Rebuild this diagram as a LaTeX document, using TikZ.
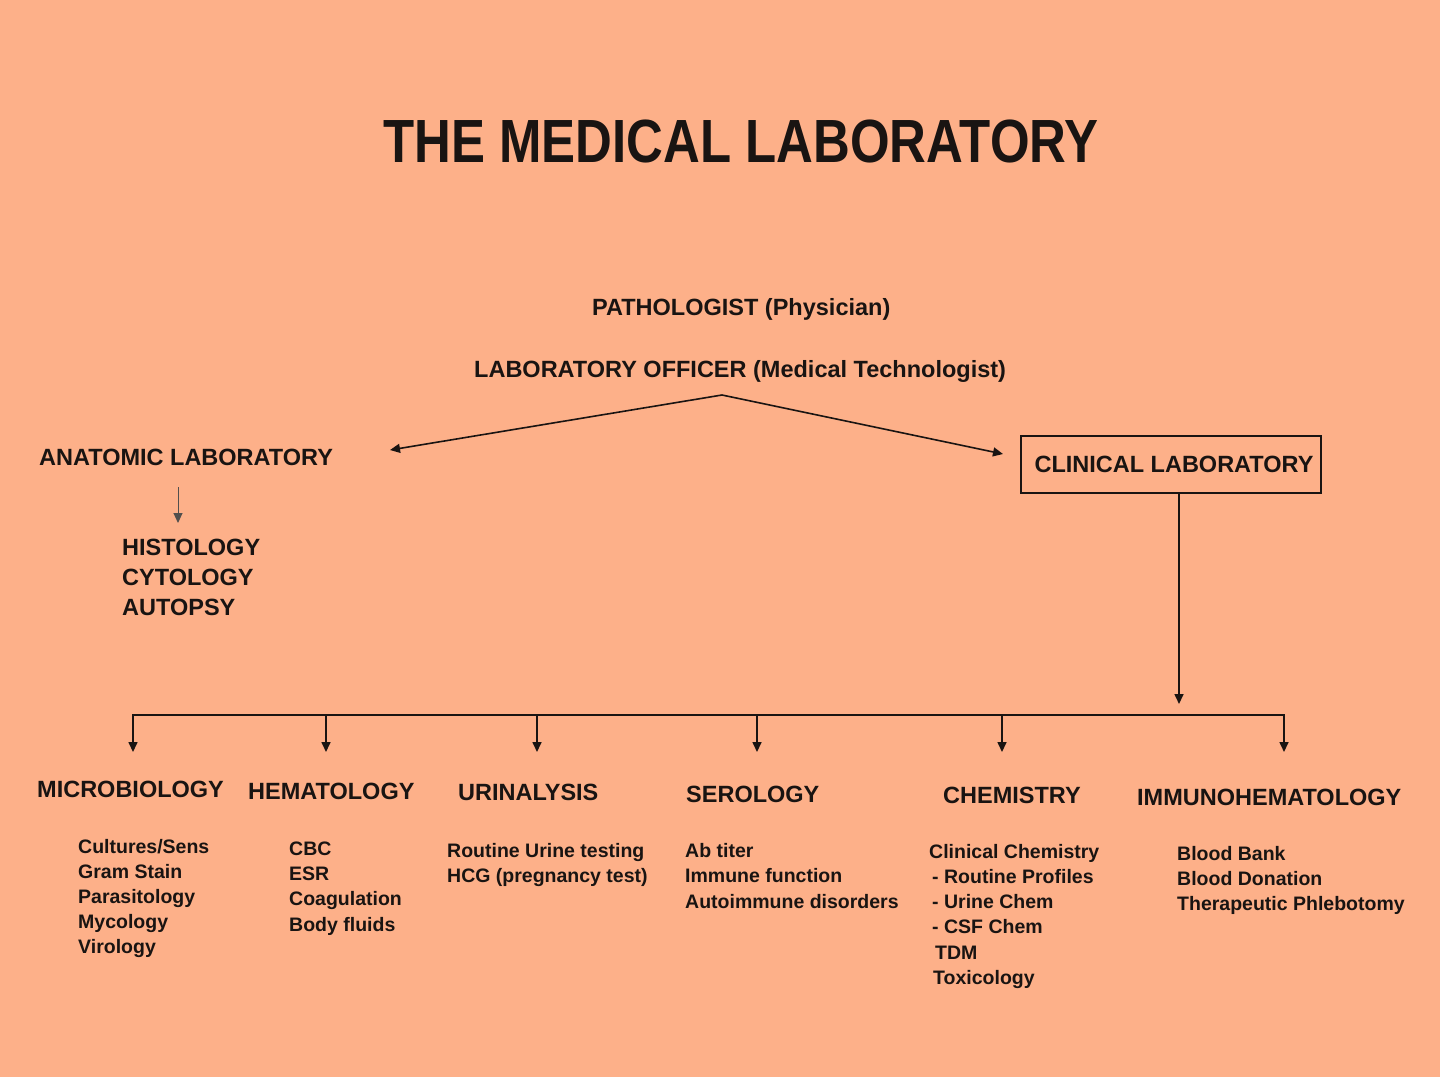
\documentclass[tikz,border=0pt]{standalone}
\usepackage{fontspec}
\setmainfont{Liberation Sans}
\usetikzlibrary{arrows.meta}
\definecolor{bg}{RGB}{253,176,137}
\definecolor{ink}{RGB}{25,20,18}
\begin{document}
\begin{tikzpicture}[x=1pt,y=-1pt,
  txt/.style={inner sep=0pt, text=ink},
  head/.style={txt, font=\fontsize{23.5}{28}\selectfont\bfseries, anchor=base west},
  item/.style={txt, font=\fontsize{19.5}{24}\selectfont\bfseries, anchor=base west},
  conn/.style={draw=ink, line width=1.6pt},
  arr/.style={conn, -{Triangle[length=10pt,width=9pt]}}]
\fill[bg] (0,0) rectangle (1440,1077);
\useasboundingbox (0,0) rectangle (1440,1077);

% title
\node[txt, anchor=base, font=\fontsize{61}{61}\selectfont\bfseries] (title) at (741,162)
  {\scalebox{0.835}[1]{THE MEDICAL LABORATORY}};

% top levels
\node[head] (path) at (592,315) {PATHOLOGIST (Physician)};
\node[head] (officer) at (474,377) {LABORATORY OFFICER (Medical Technologist)};
\node[head] (anat) at (39,465) {ANATOMIC LABORATORY};
\node[txt, font=\fontsize{23.5}{28}\selectfont\bfseries, draw=ink, line width=1.3pt,
      minimum width=300pt, minimum height=57pt] (clin) at (1171,464.5) {\hspace*{6pt}CLINICAL LABORATORY};

\coordinate (split) at (722,395);
\coordinate (anatTip) at (390,450);
\coordinate (clinTip) at (1003,454);
\draw[arr] (split) -- (anatTip);
\draw[arr] (split) -- (clinTip);

% anatomic branch
\coordinate (aTop) at (178,487);
\coordinate (aTip) at (178,523);
\draw[arr, line width=1pt, draw=ink!75] (aTop) -- (aTip);
\node[head] (histo) at (122,555) {HISTOLOGY};
\node[head] (cyto) at (122,585) {CYTOLOGY};
\node[head] (autop) at (122,615) {AUTOPSY};

% clinical branch
\coordinate (cTip) at (1179,704);
\draw[arr] (clin.south -| cTip) -- (cTip);

\foreach \x [count=\i] in {133,326,537,757,1002,1284} {
  \coordinate (b\i) at (\x,715);
  \coordinate (t\i) at (\x,752);
}
\draw[conn, line cap=rect] (b1) -- (b6);
\foreach \i in {1,...,6} \draw[arr] (b\i) -- (t\i);

% department headings
\node[head] (micro) at (37,797) {MICROBIOLOGY};
\node[head] (hema) at (248,799) {HEMATOLOGY};
\node[head] (urin) at (458,800) {URINALYSIS};
\node[head] (sero) at (686,802) {SEROLOGY};
\node[head] (chem) at (943,803) {CHEMISTRY};
\node[head] (immu) at (1137,805) {IMMUNOHEMATOLOGY};

% items
\foreach \t [count=\i] in {Cultures/Sens, Gram Stain, Parasitology, Mycology, Virology}
  \node[item] (mi\i) at (78,{853+25*(\i-1)}) {\t};
\foreach \t [count=\i] in {CBC, ESR, Coagulation, Body fluids}
  \node[item] (he\i) at (289,{855+25.4*(\i-1)}) {\t};
\foreach \t [count=\i] in {Routine Urine testing, HCG (pregnancy test)}
  \node[item] (ur\i) at (447,{857+25*(\i-1)}) {\t};
\foreach \t [count=\i] in {Ab titer, Immune function, Autoimmune disorders}
  \node[item] (se\i) at (685,{857+25.5*(\i-1)}) {\t};
\node[item] (ch1) at (929,858) {Clinical Chemistry};
\node[item] (ch2) at (932,883) {- Routine Profiles};
\node[item] (ch3) at (932,908) {- Urine Chem};
\node[item] (ch4) at (932,933) {- CSF Chem};
\node[item] (ch5) at (935,959) {TDM};
\node[item] (ch6) at (933,984) {Toxicology};
\foreach \t [count=\i] in {Blood Bank, Blood Donation, Therapeutic Phlebotomy}
  \node[item] (im\i) at (1177,{860+25*(\i-1)}) {\t};
\end{tikzpicture}
\end{document}
